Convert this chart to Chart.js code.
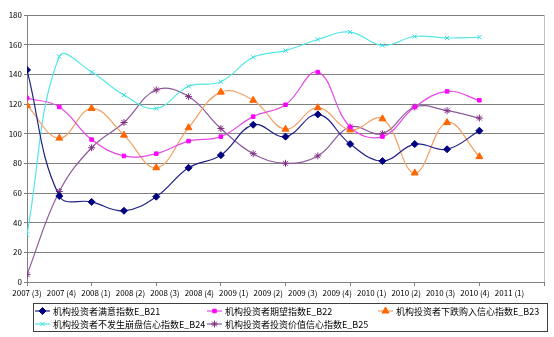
<!DOCTYPE html>
<html>
<head>
<meta charset="utf-8">
<script src="https://cdn.jsdelivr.net/npm/chart.js@4.4.1/dist/chart.umd.min.js"></script>
<style>
  html, body { margin: 0; padding: 0; background: #fff; }
  #wrap { width: 554px; height: 337px; }
</style>
</head>
<body>
<div id="wrap"><canvas id="grafica" width="554" height="337"></canvas></div>
<script>
// Datos
const trimestres = ["2007 (3)", "2007 (4)", "2008 (1)", "2008 (2)", "2008 (3)", "2008 (4)",
  "2009 (1)", "2009 (2)", "2009 (3)", "2009 (4)", "2010 (1)", "2010 (2)",
  "2010 (3)", "2010 (4)", "2011 (1)"];

const nombres = ["机构投资者满意指数E_B21", "机构投资者期望指数E_B22", "机构投资者下跌购入信心指数E_B23",
  "机构投资者不发生崩盘信心指数E_B24", "机构投资者投资价值信心指数E_B25"];

const b21 = [143, 58, 54, 48, 57.5, 77, 85.5, 106, 98, 113, 93, 81.5, 93, 89.5, 102];
const b22 = [124, 118, 96, 85, 86.5, 95, 98, 111.5, 119.5, 141.5, 104.5, 98, 118, 128.5, 122.5];
const b23 = [119, 97, 117, 99, 77, 104, 128, 122.5, 103, 117.5, 102.5, 110, 73.5, 107.5, 84.5];
const b24 = [32, 152, 141.5, 126, 117, 132, 135, 151.5, 156, 163.5, 168.5, 159.5, 165.5, 164.5, 165];
const b25 = [5, 61, 90.5, 107.5, 129.5, 125, 103.5, 86.5, 80, 85, 104.5, 100, 118, 115.5, 110.5];

const yTicks = [0, 20, 40, 60, 80, 100, 120, 140, 160, 180];

const fuente = '"Noto Sans CJK SC", "DejaVu Sans", sans-serif';

// Estilo de cada serie
const estilos = [
  { line: "#1f1f88", point: "#000080", style: "rectRot", r: 3.5 },
  { line: "#e448e4", point: "#ff00ff", style: "rect", r: 2.5 },
  { line: "#f2a062", point: "#ff6600", style: "triangle", r: 4 },
  { line: "#55e6e6", point: "#33dddd", style: "crossRot", r: 3 },
  { line: "#8e5a9e", point: "#803080", style: "star", r: 3.5 },
];

function serie(valores, i) {
  const e = estilos[i];
  return {
    label: nombres[i],
    data: valores.map((v, k) => ({ x: k, y: v })),
    borderColor: e.line,
    backgroundColor: e.point,
    pointBorderColor: e.point,
    pointBackgroundColor: e.point,
    pointStyle: e.style,
    pointRadius: e.r,
    pointBorderWidth: 1,
    borderWidth: 1.2,
    tension: 0.4,
    fill: false,
  };
}

// Leyenda propia en columnas (como Excel) y borde derecho del área
const leyendaPlugin = {
  id: "leyendaExcel",
  afterDraw(chart) {
    const ctx = chart.ctx;
    const a = chart.chartArea;
    ctx.save();
    ctx.strokeStyle = "#c0c0c0";
    ctx.lineWidth = 1;
    ctx.beginPath();
    ctx.moveTo(Math.round(a.right) + 0.5, a.top);
    ctx.lineTo(Math.round(a.right) + 0.5, a.bottom);
    ctx.stroke();

    ctx.strokeStyle = "#404040";
    ctx.strokeRect(33.5, 303.5, 514, 28);

    const cols = [35, 207, 378];
    const filas = [311, 324];
    ctx.font = "9px " + fuente;
    ctx.textBaseline = "middle";
    ctx.fillStyle = "#000";
    chart.data.datasets.forEach((ds, i) => {
      const x = cols[i % 3];
      const y = filas[Math.floor(i / 3)];
      ctx.strokeStyle = ds.borderColor;
      ctx.lineWidth = 1.2;
      ctx.beginPath();
      ctx.moveTo(x, y);
      ctx.lineTo(x + 15, y);
      ctx.stroke();
      ctx.fillStyle = ds.pointBackgroundColor;
      ctx.strokeStyle = ds.pointBorderColor;
      ctx.lineWidth = 1;
      Chart.helpers.drawPoint(ctx, { pointStyle: ds.pointStyle, radius: ds.pointRadius, rotation: 0, borderWidth: 1 }, x + 7.5, y);
      ctx.fillStyle = "#000";
      ctx.fillText(ds.label, x + 18, y + 0.5);
    });
    ctx.restore();
  },
};

let chart = null;

function graficar() {
  const ctx = document.getElementById("grafica").getContext("2d");
  const config = {
    type: "line",
    data: {
      datasets: [b21, b22, b23, b24, b25].map(serie),
    },
    options: {
      responsive: false,
      animation: false,
      layout: { padding: { top: 15, right: 10, bottom: 37, left: 0 } },
      plugins: { legend: { display: false }, tooltip: { enabled: false } },
      scales: {
        x: {
          type: "linear",
          position: "bottom",
          min: 0,
          max: 16,
          ticks: { display: false, stepSize: 2 },
          grid: { drawOnChartArea: false, drawTicks: true, tickLength: 4, color: "#808080" },
          border: { color: "#808080" },
          afterFit(s) { s.height = 4; },
        },
        xl: {
          type: "category",
          position: "bottom",
          labels: trimestres.concat([""]),
          offset: false,
          grid: { display: false, drawTicks: false },
          border: { display: false },
          ticks: {
            autoSkip: false, maxRotation: 0, minRotation: 0, padding: 2,
            color: "#000", font: { family: fuente, size: 8 },
          },
          afterFit(s) { s.height = 14; },
        },
        y: {
          min: 0,
          max: 180,
          afterBuildTicks(s) { s.ticks = yTicks.map(v => ({ value: v })); },
          ticks: { color: "#000", padding: 2, font: { family: fuente, size: 8 } },
          grid: { color: "#808080", tickLength: 3 },
          border: { color: "#808080" },
          afterFit(s) { s.width = 27; },
        },
      },
    },
    plugins: [leyendaPlugin],
  };
  if (chart) chart.destroy();
  chart = new Chart(ctx, config);
}

graficar();
</script>
</body>
</html>
